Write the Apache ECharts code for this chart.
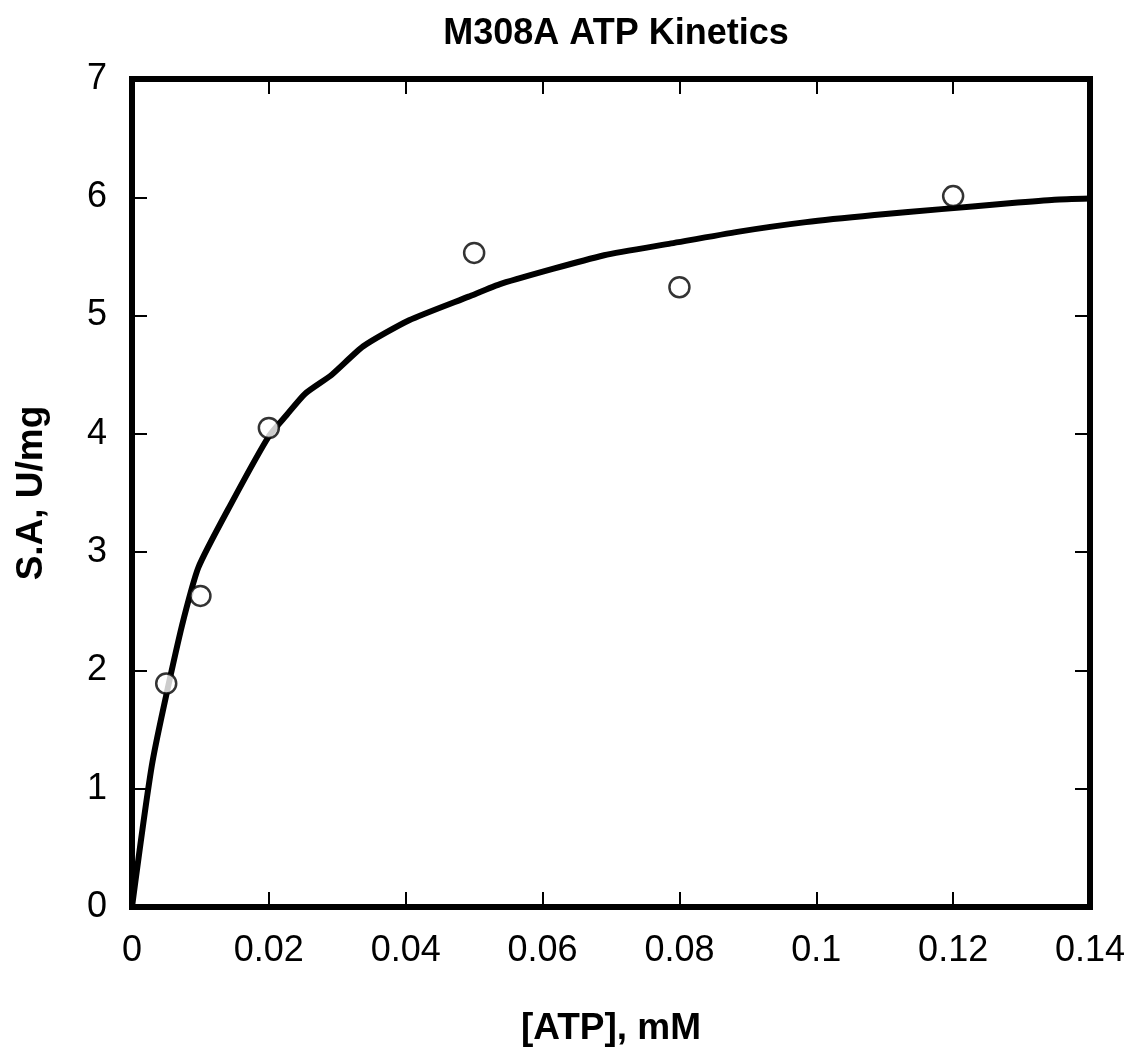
<!DOCTYPE html>
<html lang="en">
<head>
  <meta charset="UTF-8">
  <title>M308A ATP Kinetics</title>
  <script src="https://cdn.jsdelivr.net/npm/echarts@6/dist/echarts.min.js"></script>
  <style>
    html, body { margin: 0; padding: 0; background: #fff; }
    #main { width: 1132px; height: 1053px; }
  </style>
</head>
<body>
  <div id="main"></div>
  <script>
    // measured points
    var atpConc = [0.005, 0.01, 0.02, 0.05, 0.08, 0.12];
    var specActivity = [1.89, 2.63, 4.05, 5.53, 5.24, 6.01];

    // fitted curve
    var fitX = [0, 0.003, 0.0071, 0.0097, 0.0144, 0.02, 0.0226, 0.0253, 0.0292, 0.0338,
                0.0405, 0.0492, 0.054, 0.069, 0.0788, 0.0887, 0.0985, 0.1085, 0.1183,
                0.1282, 0.1348, 0.14];
    var fitY = [0, 1.23, 2.33, 2.87, 3.40, 3.98, 4.16, 4.34, 4.50, 4.74,
                4.96, 5.16, 5.27, 5.51, 5.61, 5.71, 5.79, 5.85, 5.90,
                5.95, 5.98, 5.99];

    var font = 'Liberation Sans, Arial, sans-serif';

    var points = atpConc.map(function (x, i) { return [x, specActivity[i]]; });
    var fit = fitX.map(function (x, i) { return [x, fitY[i]]; });

    // fresh object each time, echarts merges into what it gets
    function ticks() {
      return { show: true, inside: true, length: 15, lineStyle: { color: '#000', width: 2 } };
    }

    var myChart = echarts.init(document.getElementById('main'));

    var option = {
      backgroundColor: '#fff',
      animation: false,
      title: {
        text: 'M308A ATP Kinetics',
        left: 611,
        textAlign: 'center',
        top: 11,
        textStyle: { fontFamily: font, fontWeight: 'bold', fontSize: 36, color: '#000' }
      },
      grid: {
        left: 132, right: 42, top: 79, bottom: 146,
        show: true, borderColor: '#000', borderWidth: 6,
        containLabel: false
      },
      xAxis: [{
        type: 'value',
        position: 'bottom',
        min: 0, max: 0.14, interval: 0.02,
        name: '[ATP], mM',
        nameLocation: 'middle',
        nameGap: 103,
        nameTextStyle: { fontFamily: font, fontWeight: 'bold', fontSize: 37, color: '#000' },
        axisLine: { show: false, onZero: false },
        axisTick: ticks(),
        splitLine: { show: false },
        axisLabel: {
          margin: 26,
          fontFamily: font, fontSize: 36, color: '#000',
          formatter: function (v) { return String(parseFloat(v.toFixed(2))); }
        }
      }, {
        type: 'value',
        position: 'top',
        min: 0, max: 0.14, interval: 0.02,
        axisLine: { show: false, onZero: false },
        axisTick: ticks(),
        axisLabel: { show: false },
        splitLine: { show: false }
      }],
      yAxis: [{
        type: 'value',
        position: 'left',
        min: 0, max: 7, interval: 1,
        name: 'S.A, U/mg',
        nameLocation: 'middle',
        nameGap: 82,
        nameTextStyle: { fontFamily: font, fontWeight: 'bold', fontSize: 37, color: '#000' },
        axisLine: { show: false, onZero: false },
        axisTick: ticks(),
        splitLine: { show: false },
        axisLabel: { margin: 25, fontFamily: font, fontSize: 36, color: '#000' }
      }, {
        type: 'value',
        position: 'right',
        min: 0, max: 7, interval: 1,
        axisLine: { show: false, onZero: false },
        axisTick: ticks(),
        axisLabel: { show: false },
        splitLine: { show: false }
      }],
      series: [{
        name: 'fit',
        type: 'line',
        data: fit,
        showSymbol: false,
        symbol: 'none',
        smooth: 0.2,
        lineStyle: { color: '#000', width: 6, join: 'round', cap: 'round' },
        z: 2
      }, {
        name: 'data',
        type: 'scatter',
        data: points,
        symbol: 'circle',
        symbolSize: 20,
        itemStyle: { color: '#fff', borderColor: '#000', borderWidth: 2.5 },
        z: 3
      }]
    };

    myChart.setOption(option);
  </script>
</body>
</html>
